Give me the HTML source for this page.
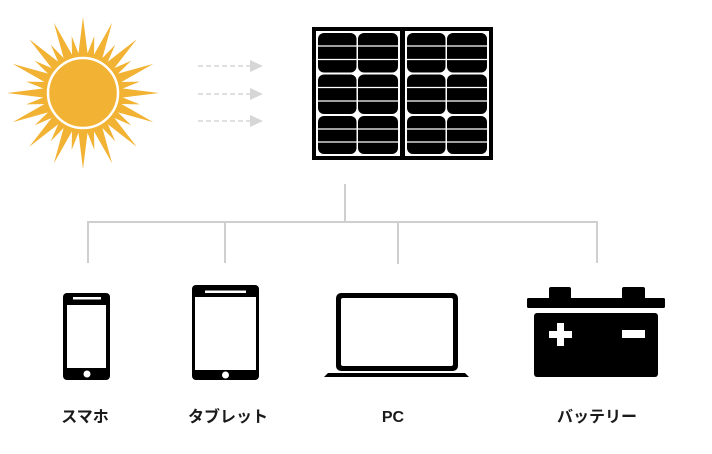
<!DOCTYPE html>
<html><head><meta charset="utf-8"><style>
html,body{margin:0;padding:0;background:#fff;width:712px;height:454px;overflow:hidden}
svg{display:block}
text{font-family:"Liberation Sans","Noto Sans CJK JP",sans-serif;font-weight:bold;font-size:16px;fill:#1a1a1a}
</style></head><body>
<svg width="712" height="454" viewBox="0 0 712 454" xmlns="http://www.w3.org/2000/svg">
<defs>
<polygon id="L" points="0,-76 -5,-36 5,-36" fill="#f2b233"/>
<polygon id="S" points="0,-58 -4,-36 4,-36" fill="#f2b233"/>
</defs>
<g transform="translate(83,93)">
<use href="#L" transform="rotate(0)"/><use href="#L" transform="rotate(22.5)"/><use href="#L" transform="rotate(45)"/><use href="#L" transform="rotate(67.5)"/>
<use href="#L" transform="rotate(90)"/><use href="#L" transform="rotate(112.5)"/><use href="#L" transform="rotate(135)"/><use href="#L" transform="rotate(157.5)"/>
<use href="#L" transform="rotate(180)"/><use href="#L" transform="rotate(202.5)"/><use href="#L" transform="rotate(225)"/><use href="#L" transform="rotate(247.5)"/>
<use href="#L" transform="rotate(270)"/><use href="#L" transform="rotate(292.5)"/><use href="#L" transform="rotate(315)"/><use href="#L" transform="rotate(337.5)"/>
<use href="#S" transform="rotate(11.25)"/><use href="#S" transform="rotate(33.75)"/><use href="#S" transform="rotate(56.25)"/><use href="#S" transform="rotate(78.75)"/>
<use href="#S" transform="rotate(101.25)"/><use href="#S" transform="rotate(123.75)"/><use href="#S" transform="rotate(146.25)"/><use href="#S" transform="rotate(168.75)"/>
<use href="#S" transform="rotate(191.25)"/><use href="#S" transform="rotate(213.75)"/><use href="#S" transform="rotate(236.25)"/><use href="#S" transform="rotate(258.75)"/>
<use href="#S" transform="rotate(281.25)"/><use href="#S" transform="rotate(303.75)"/><use href="#S" transform="rotate(326.25)"/><use href="#S" transform="rotate(348.75)"/>
<circle r="38" fill="#f2b233"/>
<circle r="35" fill="none" stroke="#fff" stroke-width="2.5"/>
</g>
<g stroke="#d6d6d6" stroke-width="1.5" stroke-dasharray="5,3" fill="none">
<line x1="198" y1="66" x2="252" y2="66"/><line x1="198" y1="94" x2="252" y2="94"/><line x1="198" y1="121" x2="252" y2="121"/>
</g>
<g fill="#d6d6d6">
<polygon points="250,60 263,66 250,72"/><polygon points="250,88 263,94 250,100"/><polygon points="250,115 263,121 250,127"/>
</g>
<rect x="312" y="27" width="181" height="133" fill="#000"/>
<rect x="316" y="31" width="84" height="125" fill="#fff"/>
<rect x="405" y="31" width="84" height="125" fill="#fff"/>
<g fill="#000">
<rect x="318" y="33" width="38.5" height="39.5" rx="6"/><rect x="358" y="33" width="40" height="39.5" rx="6"/>
<rect x="318" y="74.5" width="38.5" height="39.5" rx="6"/><rect x="358" y="74.5" width="40" height="39.5" rx="6"/>
<rect x="318" y="116" width="38.5" height="38" rx="6"/><rect x="358" y="116" width="40" height="38" rx="6"/>
<rect x="407" y="33" width="38.5" height="39.5" rx="6"/><rect x="447" y="33" width="40" height="39.5" rx="6"/>
<rect x="407" y="74.5" width="38.5" height="39.5" rx="6"/><rect x="447" y="74.5" width="40" height="39.5" rx="6"/>
<rect x="407" y="116" width="38.5" height="38" rx="6"/><rect x="447" y="116" width="40" height="38" rx="6"/>
</g>
<g stroke="#fff" stroke-width="1.2">
<line x1="316" y1="46" x2="489" y2="46"/><line x1="316" y1="59.5" x2="489" y2="59.5"/>
<line x1="316" y1="87.5" x2="489" y2="87.5"/><line x1="316" y1="101" x2="489" y2="101"/>
<line x1="316" y1="129" x2="489" y2="129"/><line x1="316" y1="142" x2="489" y2="142"/>
</g>
<rect x="400" y="31" width="5" height="125" fill="#000"/>
<g stroke="#cfcfcf" stroke-width="2" fill="none">
<line x1="345" y1="184" x2="345" y2="222"/>
<line x1="87" y1="222" x2="598" y2="222"/>
<line x1="88" y1="222" x2="88" y2="263"/><line x1="225" y1="222" x2="225" y2="263"/>
<line x1="398" y1="222" x2="398" y2="264"/><line x1="597" y1="222" x2="597" y2="263"/>
</g>
<rect x="63" y="293" width="47" height="87" rx="4" fill="#000"/>
<rect x="67" y="305" width="39" height="63" fill="#fff"/>
<rect x="73" y="297" width="28" height="2.5" fill="#fff"/>
<circle cx="87" cy="374" r="3.5" fill="#fff"/>
<rect x="192" y="285" width="67" height="95" rx="4" fill="#000"/>
<rect x="195" y="297" width="61" height="73" fill="#fff"/>
<rect x="205" y="290.5" width="41" height="2.5" fill="#fff"/>
<circle cx="225.5" cy="375" r="3.5" fill="#fff"/>
<rect x="336" y="293" width="122" height="78" rx="5" fill="#000"/>
<rect x="341" y="298" width="112" height="68" rx="2" fill="#fff"/>
<polygon points="328,373 465,373 469,377 324,377" fill="#000"/>
<rect x="549" y="287" width="22" height="14" rx="2" fill="#000"/>
<rect x="622" y="287" width="23" height="14" rx="2" fill="#000"/>
<rect x="527" y="298" width="138" height="10" rx="1.5" fill="#000"/>
<rect x="534" y="313" width="124" height="64" rx="3" fill="#000"/>
<rect x="549" y="331" width="23" height="7" fill="#fff"/>
<rect x="557" y="323" width="7" height="23" fill="#fff"/>
<rect x="622" y="330" width="23" height="8" fill="#fff"/>
<text x="85" y="422" text-anchor="middle">スマホ</text>
<text x="228" y="422" text-anchor="middle">タブレット</text>
<text x="393" y="422" text-anchor="middle">PC</text>
<text x="597" y="422" text-anchor="middle">バッテリー</text>
</svg>
</body></html>
